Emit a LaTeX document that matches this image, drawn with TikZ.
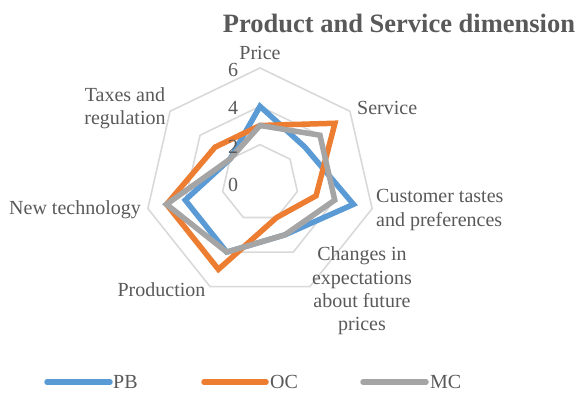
\documentclass[tikz,border=0pt]{standalone}
\usepackage{fontspec}
\setmainfont{Liberation Serif}
\definecolor{txt}{HTML}{595959}
\definecolor{gridc}{HTML}{D9D9D9}
\definecolor{pbc}{HTML}{5B9BD5}
\definecolor{occ}{HTML}{ED7D31}
\definecolor{mcc}{HTML}{A5A5A5}
\newcommand\rpt[3]{\coordinate (#1) at ({260+#3*19.17*sin(#2*360/7)},{183-#3*19.17*cos(#2*360/7)});}
\begin{document}
\begin{tikzpicture}[x=1pt,y=-1pt,
  gridline/.style={draw=gridc,line width=1.6pt,line join=miter},
  series/.style={line width=5.5pt,line join=miter},
  pbline/.style={series,draw=pbc},
  ocline/.style={series,draw=occ},
  mcline/.style={series,draw=mcc},
  legline/.style={line width=5.5pt,line cap=round},
  lab/.style={text=txt,inner sep=0pt,font=\fontsize{20}{23.3}\selectfont},
  ttl/.style={text=txt,inner sep=0pt,font=\fontsize{26.5}{30}\selectfont\bfseries}]
\useasboundingbox (0,0) rectangle (583,392);
% grid heptagons
\foreach \v in {2,4,6}{
  \draw[gridline] plot[samples at={0,1,...,6}] ({260+\v*19.17*sin(\x*360/7)},{183-\v*19.17*cos(\x*360/7)}) -- cycle;
}
% data points
\rpt{pb0}{0}{4}\rpt{pb1}{1}{3}\rpt{pb2}{2}{5}\rpt{pb3}{3}{3}\rpt{pb4}{4}{4}\rpt{pb5}{5}{4}\rpt{pb6}{6}{2}
\rpt{oc0}{0}{3}\rpt{oc1}{1}{5}\rpt{oc2}{2}{3}\rpt{oc3}{3}{2}\rpt{oc4}{4}{5}\rpt{oc5}{5}{5}\rpt{oc6}{6}{3}
\rpt{mc0}{0}{3}\rpt{mc1}{1}{4}\rpt{mc2}{2}{4}\rpt{mc3}{3}{3}\rpt{mc4}{4}{4}\rpt{mc5}{5}{5}\rpt{mc6}{6}{2}
\draw[pbline] (pb0) -- (pb1) -- (pb2) -- (pb3) -- (pb4) -- (pb5) -- (pb6) -- cycle;
\draw[ocline] (oc0) -- (oc1) -- (oc2) -- (oc3) -- (oc4) -- (oc5) -- (oc6) -- cycle;
\draw[mcline] (mc0) -- (mc1) -- (mc2) -- (mc3) -- (mc4) -- (mc5) -- (mc6) -- cycle;
% tick labels
\node[lab] (t6) at (233,70) {6};
\node[lab] (t4) at (233,108) {4};
\node[lab] (t2) at (233,147) {2};
\node[lab] (t0) at (233,185) {0};
% axis labels
\node[lab] (lprice) at (260,53) {Price};
\node[lab,anchor=west] (lserv) at (357,108) {Service};
\node[lab,anchor=west,align=left] (lcust) at (376,210) {Customer tastes\\and preferences};
\node[lab,align=center] (lchg) at (362,291) {Changes in\\expectations\\about future\\prices};
\node[lab] (lprod) at (161.5,290) {Production};
\node[lab] (ltech) at (75,210) {New technology};
\node[lab,align=center] (ltax) at (125,108.5) {Taxes and\\regulation};
% title
\node[ttl] (title) at (399,23) {Product and Service dimension};
% legend
\coordinate (pbA) at (47,382); \coordinate (pbB) at (110,382);
\coordinate (ocA) at (204,382); \coordinate (ocB) at (266,382);
\coordinate (mcA) at (363,382); \coordinate (mcB) at (426,382);
\draw[legline,draw=pbc] (pbA) -- (pbB);
\draw[legline,draw=occ] (ocA) -- (ocB);
\draw[legline,draw=mcc] (mcA) -- (mcB);
\node[lab,anchor=west] (lpb) at (113,382) {PB};
\node[lab,anchor=west] (loc) at (270,382) {OC};
\node[lab,anchor=west] (lmc) at (430,382) {MC};
\end{tikzpicture}
\end{document}
